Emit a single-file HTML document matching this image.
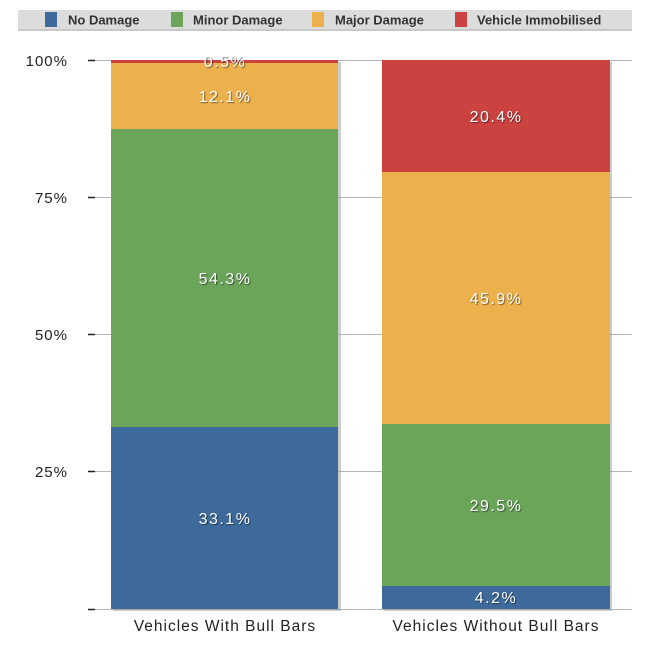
<!DOCTYPE html><html><head><style>body{margin:0;background:#fff}</style></head><body>
<svg width="660" height="653" xmlns="http://www.w3.org/2000/svg" font-family="Liberation Sans, sans-serif">
<rect x="18" y="10" width="614" height="20" fill="#dcdcdc"/>
<rect x="18" y="29" width="614" height="2" fill="#c8c8c8"/>
<g font-size="13" font-weight="bold" fill="#333">
<rect x="45" y="12" width="12" height="15" fill="#3d6a9b"/><text x="68" y="24.5">No Damage</text>
<rect x="171" y="12" width="12" height="15" fill="#6aa55a"/><text x="193" y="24.5">Minor Damage</text>
<rect x="312" y="12" width="12" height="15" fill="#ecb04c"/><text x="335" y="24.5">Major Damage</text>
<rect x="455" y="12" width="12" height="15" fill="#cc4240"/><text x="477" y="24.5">Vehicle Immobilised</text>
</g>
<g stroke="#b5b5b5" stroke-width="1">
<line x1="88" y1="60.5" x2="632" y2="60.5"/><line x1="88" y1="197.5" x2="632" y2="197.5"/><line x1="88" y1="334.5" x2="632" y2="334.5"/><line x1="88" y1="471.5" x2="632" y2="471.5"/><line x1="88" y1="609.5" x2="632" y2="609.5"/>
</g>
<g stroke="#222" stroke-width="1.5">
<line x1="88" y1="60.5" x2="95" y2="60.5"/><line x1="88" y1="197.5" x2="95" y2="197.5"/><line x1="88" y1="334.5" x2="95" y2="334.5"/><line x1="88" y1="471.5" x2="95" y2="471.5"/><line x1="88" y1="609.5" x2="95" y2="609.5"/>
</g>
<g font-size="15" fill="#222" text-anchor="end" letter-spacing="1">
<text x="68" y="66">100%</text><text x="68" y="203">75%</text><text x="68" y="340">50%</text><text x="68" y="477">25%</text>
</g>
<rect x="113" y="62" width="228" height="549" fill="#999" opacity="0.5"/>
<rect x="384" y="62" width="228" height="549" fill="#999" opacity="0.5"/>
<rect x="111" y="60" width="227" height="3" fill="#cc4240"/>
<rect x="111" y="63" width="227" height="66" fill="#ecb04c"/>
<rect x="111" y="129" width="227" height="298" fill="#6aa55a"/>
<rect x="111" y="427" width="227" height="182" fill="#3d6a9b"/>
<rect x="382" y="60" width="228" height="112" fill="#cc4240"/>
<rect x="382" y="172" width="228" height="252" fill="#ecb04c"/>
<rect x="382" y="424" width="228" height="162" fill="#6aa55a"/>
<rect x="382" y="586" width="228" height="23" fill="#3d6a9b"/>
<g font-size="16" fill="#fff" text-anchor="middle" letter-spacing="1.5" style="text-shadow:1px 1px 1px rgba(0,0,0,.5)">
<text x="225" y="67">0.5%</text><text x="225" y="102">12.1%</text><text x="225" y="284">54.3%</text><text x="225" y="524">33.1%</text>
<text x="496" y="122">20.4%</text><text x="496" y="304">45.9%</text><text x="496" y="511">29.5%</text><text x="496" y="603">4.2%</text>
</g>
<g font-size="15.5" fill="#222" text-anchor="middle" letter-spacing="1">
<text x="225" y="631">Vehicles With Bull Bars</text><text x="496" y="631">Vehicles Without Bull Bars</text>
</g>
</svg></body></html>
